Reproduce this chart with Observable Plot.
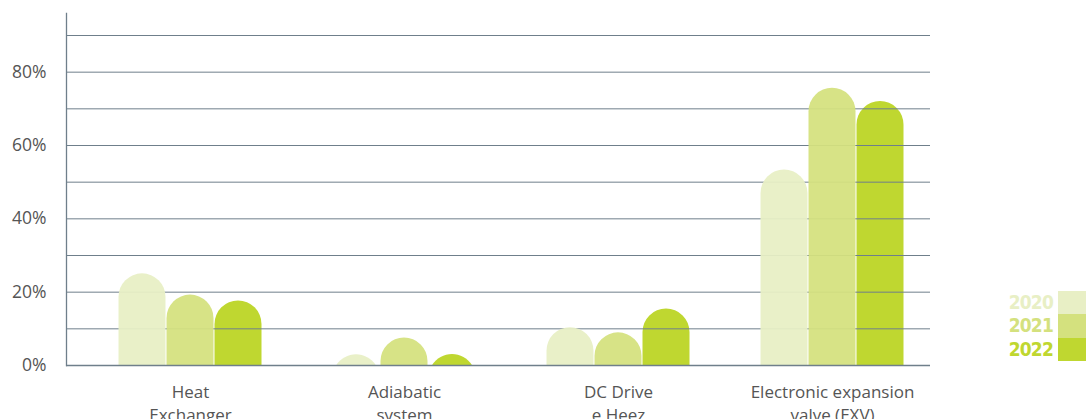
<!DOCTYPE html>
<html>
<head>
<meta charset="utf-8">
<script src="https://cdn.jsdelivr.net/npm/d3@7"></script>
<script src="https://cdn.jsdelivr.net/npm/@observablehq/plot@0.6"></script>
<style>
  body { margin: 0; background: #fff; }
  #wrap { position: relative; width: 1086px; height: 419px; overflow: hidden; }
  #legend { position: absolute; left: 990px; top: 291px; width: 96px; }
  .row { position: relative; height: 23.3px; }
  .row span { position: absolute; right: 33px; top: 0; line-height: 23px; letter-spacing: -0.8px;
    font-family: "DejaVu Sans Condensed", "DejaVu Sans", sans-serif; font-weight: bold; font-size: 19px; }
  .row i { position: absolute; left: 68px; top: 0; width: 28px; height: 23.3px; }
</style>
</head>
<body>
<div id="wrap"><div id="chart"></div><div id="legend"></div></div>
<script>
// Share of units fitted with each component, by year (%)
const categories = ["Heat\nExchanger", "Adiabatic\nsystem", "DC Drive\ne Heez", "Electronic expansion\nvalve (EXV)"];
const years = ["2020", "2021", "2022"];
const share2020 = [25.0, 2.9, 10.3, 53.3];
const share2021 = [19.2, 7.5, 8.9, 75.6];
const share2022 = [17.6, 3.0, 15.4, 72.0];
const yTicks = [0, 20, 40, 60, 80];
const gridLines = [10, 20, 30, 40, 50, 60, 70, 80, 90];

const colors = {"2020": "#e8efc5", "2021": "#d4e17e", "2022": "#bfd730"};
const series = {"2020": share2020, "2021": share2021, "2022": share2022};
const rows = years.flatMap(year => categories.map((category, i) => ({category, year, value: series[year][i]})));

// Replace each bar rect with a path whose top is a half circle
function roundTop(index, scales, values, dimensions, context, next) {
  const g = next(index, scales, values, dimensions, context);
  for (const rect of Array.from(g.querySelectorAll("rect"))) {
    const x = +rect.getAttribute("x"), y = +rect.getAttribute("y");
    const w = +rect.getAttribute("width"), h = +rect.getAttribute("height");
    const r = w / 2, bottom = y + h, cx = x + r;
    let d;
    if (h >= r) {
      d = `M${x},${bottom}V${y + r}A${r},${r} 0 0 1 ${x + w},${y + r}V${bottom}Z`;
    } else {
      const dx = Math.sqrt(r * r - (r - h) * (r - h));
      d = `M${cx - dx},${bottom}A${r},${r} 0 0 1 ${cx + dx},${bottom}Z`;
    }
    const path = document.createElementNS("http://www.w3.org/2000/svg", "path");
    path.setAttribute("d", d);
    for (const a of Array.from(rect.attributes)) {
      if (!["x", "y", "width", "height"].includes(a.name)) path.setAttribute(a.name, a.value);
    }
    rect.replaceWith(path);
  }
  return g;
}

const barWidth = 47;
const step = 214;
const offsets = {"2020": -48, "2021": 0, "2022": 48};
const bar = (year, extra = {}) => Plot.barY(rows.filter(d => d.year === year), {
  x: "category", y: "value", fill: colors[year],
  dx: offsets[year], insetLeft: (step - barWidth) / 2, insetRight: (step - barWidth) / 2,
  render: roundTop, ...extra
});

const gridColor = "#6f7f8b";

const chart = Plot.plot({
  width: 1086,
  height: 419,
  marginTop: 13,
  marginBottom: 54,
  marginLeft: 66,
  marginRight: 156,
  style: {fontFamily: "'Open Sans', sans-serif", background: "transparent"},
  x: {domain: categories, range: [83, 939], padding: 0, label: null},
  y: {domain: [0, 96], label: null},
  marks: [
    bar("2022"),
    Plot.ruleY(gridLines, {stroke: gridColor, strokeWidth: 1}),
    bar("2020", {fillOpacity: 0.94}),
    bar("2021", {fillOpacity: 0.94}),
    Plot.ruleY([0], {stroke: gridColor, strokeWidth: 1.3}),
    Plot.frame({anchor: "left", stroke: gridColor, strokeWidth: 1.3}),
    Plot.axisY(yTicks, {tickSize: 0, tickPadding: 20, tickFormat: d => d + "%", fontSize: 17.5, fill: "#555", label: null}),
    Plot.axisX({tickSize: 0, tickPadding: 17, fontSize: 17, lineHeight: 1.31, fill: "#555", label: null})
  ]
});
document.getElementById("chart").append(chart);

// Year legend at the lower right
const legend = document.getElementById("legend");
for (const year of years) {
  const row = document.createElement("div");
  row.className = "row";
  row.innerHTML = `<span style="color:${colors[year]}">${year}</span><i style="background:${colors[year]}"></i>`;
  legend.append(row);
}
</script>
</body>
</html>
